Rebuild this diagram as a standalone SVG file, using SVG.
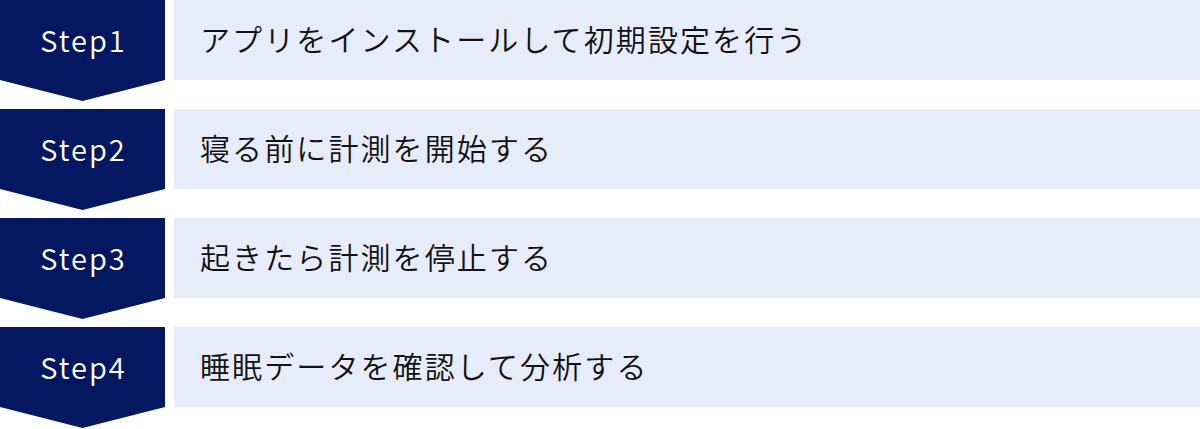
<svg xmlns="http://www.w3.org/2000/svg" width="1200" height="429" viewBox="0 0 1200 429">
<defs>
<style>
.badge{fill:#041761}
.box{fill:#e6ecfa}
.step{font-family:"Noto Sans CJK JP","Noto Sans",sans-serif;font-size:29px;font-weight:350;fill:#ffffff;letter-spacing:2px;text-anchor:middle}
.label{font-family:"Noto Sans CJK JP","Noto Sans",sans-serif;font-size:30px;font-weight:350;fill:#111111;letter-spacing:2.1px}
</style>
<path id="chev" d="M0 0H165V80L82.5 101L0 80Z"/>
</defs>
<g id="connectors"></g>
<g id="step1">
<use href="#chev" class="badge"/>
<rect class="box" x="174" y="0" width="1026" height="80"/>
<text class="step" x="83.5" y="52">Step1</text>
<text class="label" x="200" y="51">アプリをインストールして初期設定を行う</text>
</g>
<g id="step2" transform="translate(0,109)">
<use href="#chev" class="badge"/>
<rect class="box" x="174" y="0" width="1026" height="80"/>
<text class="step" x="83.5" y="52">Step2</text>
<text class="label" x="200" y="51">寝る前に計測を開始する</text>
</g>
<g id="step3" transform="translate(0,218)">
<use href="#chev" class="badge"/>
<rect class="box" x="174" y="0" width="1026" height="80"/>
<text class="step" x="83.5" y="52">Step3</text>
<text class="label" x="200" y="51">起きたら計測を停止する</text>
</g>
<g id="step4" transform="translate(0,327)">
<use href="#chev" class="badge"/>
<rect class="box" x="174" y="0" width="1026" height="80"/>
<text class="step" x="83.5" y="52">Step4</text>
<text class="label" x="200" y="51">睡眠データを確認して分析する</text>
</g>
</svg>
